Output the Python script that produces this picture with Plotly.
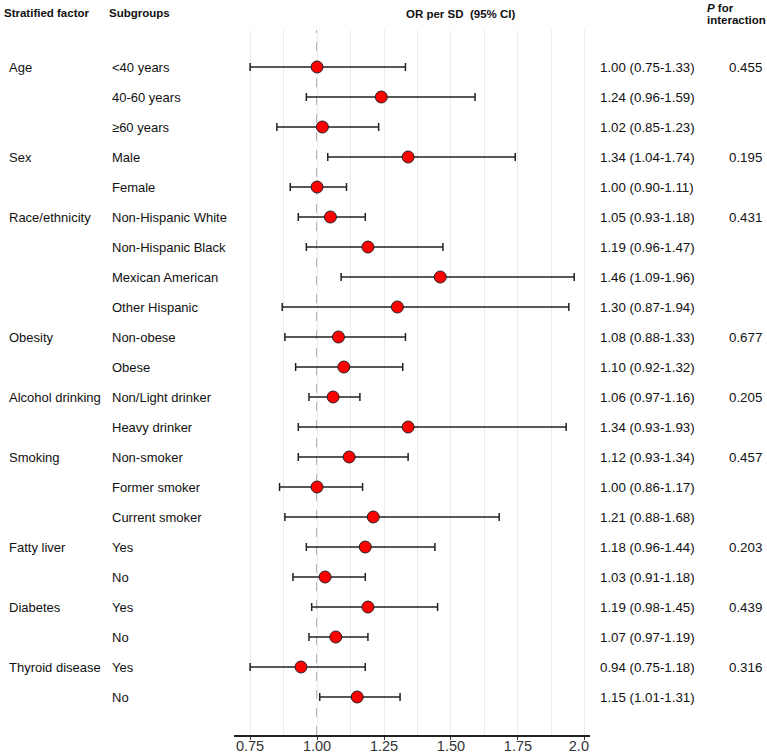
import plotly.graph_objects as go

factors = ["Age", "", "", "Sex", "", "Race/ethnicity", "", "", "", "Obesity", "",
           "Alcohol drinking", "", "Smoking", "", "", "Fatty liver", "", "Diabetes", "",
           "Thyroid disease", ""]
subgroups = ["<40 years", "40-60 years", "≥60 years", "Male", "Female",
             "Non-Hispanic White", "Non-Hispanic Black", "Mexican American", "Other Hispanic",
             "Non-obese", "Obese", "Non/Light drinker", "Heavy drinker",
             "Non-smoker", "Former smoker", "Current smoker",
             "Yes", "No", "Yes", "No", "Yes", "No"]
or_vals = [1.00, 1.24, 1.02, 1.34, 1.00, 1.05, 1.19, 1.46, 1.30, 1.08, 1.10,
           1.06, 1.34, 1.12, 1.00, 1.21, 1.18, 1.03, 1.19, 1.07, 0.94, 1.15]
lo_vals = [0.75, 0.96, 0.85, 1.04, 0.90, 0.93, 0.96, 1.09, 0.87, 0.88, 0.92,
           0.97, 0.93, 0.93, 0.86, 0.88, 0.96, 0.91, 0.98, 0.97, 0.75, 1.01]
hi_vals = [1.33, 1.59, 1.23, 1.74, 1.11, 1.18, 1.47, 1.96, 1.94, 1.33, 1.32,
           1.16, 1.93, 1.34, 1.17, 1.68, 1.44, 1.18, 1.45, 1.19, 1.18, 1.31]
p_vals = ["0.455", "", "", "0.195", "", "0.431", "", "", "", "0.677", "",
          "0.205", "", "0.457", "", "", "0.203", "", "0.439", "", "0.316", ""]
tick_vals = [0.75, 1.00, 1.25, 1.50, 1.75, 2.0]
tick_text = ["0.75", "1.00", "1.25", "1.50", "1.75", "2.0\u00a0\u00a0\u00a0"]

rows = list(range(len(subgroups)))
W, H = 767, 754
FONT = "Liberation Sans, Arial, sans-serif"


def px_x(px):
    return px / W


def px_y(py):
    return (H - py) / H


fig = go.Figure()
fig.add_trace(go.Scatter(
    x=or_vals, y=rows, mode="markers",
    marker=dict(color="#ff0000", size=12, line=dict(color="#222222", width=1)),
    error_x=dict(type="data", symmetric=False,
                 array=[h - o for h, o in zip(hi_vals, or_vals)],
                 arrayminus=[o - l for o, l in zip(or_vals, lo_vals)],
                 color="#222222", thickness=1.5, width=4),
    showlegend=False, hoverinfo="skip"))

fig.add_shape(type="line", x0=1.0, x1=1.0, xref="x", y0=0, y1=1, yref="y domain",
              line=dict(color="#999999", width=1.5, dash="dash"), layer="below")

ann = []
TXT = dict(size=13, color="#111111", family=FONT)
for i in rows:
    if factors[i]:
        ann.append(dict(x=px_x(7), y=i, xref="paper", yref="y", text=factors[i],
                        xanchor="left", yanchor="middle", showarrow=False, font=TXT))
    ann.append(dict(x=px_x(110), y=i, xref="paper", yref="y", text=subgroups[i],
                    xanchor="left", yanchor="middle", showarrow=False, font=TXT))
    ann.append(dict(x=px_x(598), y=i, xref="paper", yref="y",
                    text=f"{or_vals[i]:.2f} ({lo_vals[i]:.2f}-{hi_vals[i]:.2f})",
                    xanchor="left", yanchor="middle", showarrow=False,
                    font=dict(size=13.3, color="#111111", family=FONT)))
    if p_vals[i]:
        ann.append(dict(x=px_x(727), y=i, xref="paper", yref="y", text=p_vals[i],
                        xanchor="left", yanchor="middle", showarrow=False,
                        font=dict(size=13.3, color="#111111", family=FONT)))

hdr = dict(size=11.5, color="#111111", family=FONT)
ann.append(dict(x=px_x(2), y=px_y(13), xref="paper", yref="paper", text="<b>Stratified factor</b>",
                xanchor="left", yanchor="middle", showarrow=False, font=hdr))
ann.append(dict(x=px_x(107), y=px_y(13), xref="paper", yref="paper", text="<b>Subgroups</b>",
                xanchor="left", yanchor="middle", showarrow=False, font=hdr))
ann.append(dict(x=px_x(404), y=px_y(14), xref="paper", yref="paper", text="<b>OR per SD  (95% CI)</b>",
                xanchor="left", yanchor="middle", showarrow=False, font=hdr))
ann.append(dict(x=px_x(705), y=px_y(8), xref="paper", yref="paper",
                text="<b><i>P</i> for</b>",
                xanchor="left", yanchor="middle", showarrow=False, font=hdr))
ann.append(dict(x=px_x(705), y=px_y(20), xref="paper", yref="paper",
                text="<b>interaction</b>",
                xanchor="left", yanchor="middle", showarrow=False, font=hdr))

fig.update_layout(
    width=W, height=H, margin=dict(l=0, r=0, t=0, b=0),
    plot_bgcolor="white", paper_bgcolor="white",
    font=dict(family=FONT, size=13, color="#111111"),
    annotations=ann,
    xaxis=dict(domain=[px_x(234), px_x(590)], range=[0.69, 2.019],
               tickvals=tick_vals, ticktext=tick_text,
               tickfont=dict(size=14.5, color="#333333"),
               showgrid=True, gridcolor="#ebebeb", gridwidth=1,
               minor=dict(dtick=0.125, tick0=0.75, showgrid=True, gridcolor="#ebebeb", gridwidth=1),
               showline=True, linecolor="#222222", linewidth=1.5,
               ticks="outside", ticklen=3, tickcolor="#333333", tickwidth=1,
               ticklabelstandoff=-6,
               zeroline=False, automargin=False),
    yaxis=dict(domain=[px_y(735), px_y(30)], range=[(735 - 67) / 30, (30 - 67) / 30],
               showticklabels=False, showgrid=False, zeroline=False, showline=False,
               automargin=False),
)

fig.write_html(
    "out.html",
    config={"displayModeBar": False},
    post_script=("document.documentElement.style.margin='0';"
                 "document.body.style.margin='0';"
                 "document.documentElement.style.overflow='hidden';"
                 "document.body.style.overflow='hidden';"),
)
